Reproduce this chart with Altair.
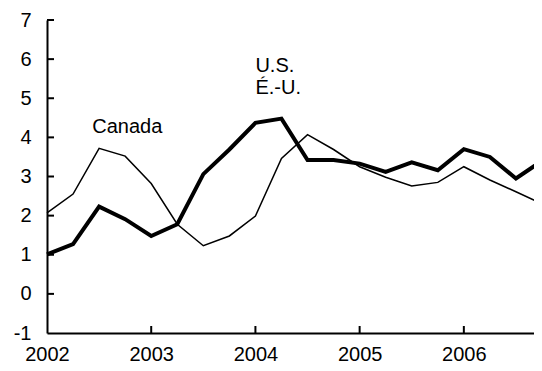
import altair as alt
import pandas as pd

# Quarterly observations, 2002Q1 .. 2006Q4
quarters = [2002 + i * 0.25 for i in range(20)]
canada = [2.07, 2.55, 3.72, 3.52, 2.82, 1.78, 1.23, 1.48, 1.99, 3.46,
          4.07, 3.69, 3.25, 2.98, 2.76, 2.85, 3.25, 2.91, 2.61, 2.30]
us = [1.01, 1.27, 2.23, 1.91, 1.48, 1.78, 3.06, 3.69, 4.37, 4.48,
      3.42, 3.42, 3.33, 3.12, 3.36, 3.16, 3.70, 3.50, 2.95, 3.40]

year_ticks = [2002, 2003, 2004, 2005, 2006]
inner_x_ticks = [2003, 2004, 2005, 2006]
y_ticks = [-1, 0, 1, 2, 3, 4, 5, 6, 7]
inner_y_ticks = [0, 1, 2, 3, 4, 5, 6, 7]

label_text = ["Canada", "U.S.", "É.-U."]
label_x = [2002.77, 2004.0, 2004.0]
label_y = [4.26, 5.66, 5.1]

FONT = "Liberation Sans"
FS = 20
W, H = 487, 313

df = pd.DataFrame({"t": quarters, "canada": canada, "us": us})
xs = alt.Scale(domain=[2002, 2006.75], nice=False, zero=False, range=[0, 495])
ys = alt.Scale(domain=[-1, 7], nice=False, zero=False)

xaxis = alt.Axis(values=year_ticks, format="d", ticks=False, grid=False,
                 domainColor="black", domainWidth=2, labelFont=FONT,
                 labelFontSize=FS, labelColor="black", labelPadding=11,
                 title=None, labelFlush=False, labelOverlap=False)
yaxis = alt.Axis(values=y_ticks, ticks=False, grid=False,
                 labelExpr="'' + datum.value",
                 domainColor="black", domainWidth=2, labelFont=FONT,
                 labelFontSize=FS, labelColor="black", labelPadding=16,
                 title=None, labelOverlap=False, labelFlush=False)


def X(field):
    return alt.X(field, scale=xs, axis=xaxis)


def Y(field):
    return alt.Y(field, scale=ys, axis=yaxis)


base = alt.Chart(df)
can_line = base.mark_line(color="black", strokeWidth=1.5).encode(
    x=X("t:Q"), y=Y("canada:Q"))
us_line = base.mark_line(color="black", strokeWidth=4, strokeJoin="miter").encode(
    x=X("t:Q"), y=Y("us:Q"))

yt = alt.Chart(pd.DataFrame({"v": inner_y_ticks})).mark_rule(
    color="black", strokeWidth=2).encode(
    y=Y("v:Q"), x=alt.value(0), x2=alt.value(7))
xt = alt.Chart(pd.DataFrame({"v": inner_x_ticks})).mark_rule(
    color="black", strokeWidth=2).encode(
    x=X("v:Q"), y=alt.value(H), y2=alt.value(H - 7))

labels_df = pd.DataFrame({"text": label_text, "x": label_x, "y": label_y})
lab_c = alt.Chart(labels_df.iloc[[0]]).mark_text(
    font=FONT, fontSize=FS, color="black", align="center", baseline="middle"
).encode(x=X("x:Q"), y=Y("y:Q"), text="text:N")
lab_u = alt.Chart(labels_df.iloc[[1, 2]]).mark_text(
    font=FONT, fontSize=FS, color="black", align="left", baseline="alphabetic"
).encode(x=X("x:Q"), y=Y("y:Q"), text="text:N")

chart = alt.layer(can_line, us_line, yt, xt, lab_c, lab_u).properties(
    width=W, height=H,
    autosize=alt.AutoSizeParams(type="none"),
    padding={"left": 39, "top": 12, "right": 0, "bottom": 30},
).configure_view(stroke=None)

chart.save("out.html", embed_options={"renderer": "svg", "actions": False})
